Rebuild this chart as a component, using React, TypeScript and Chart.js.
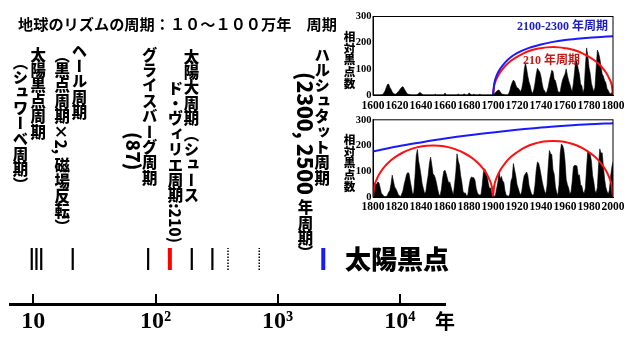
import { useEffect, useRef } from 'react';
import { Chart, registerables } from 'chart.js';
Chart.register(...registerables);

// ---------- main log axis ----------
const axisTicks = [10, 100, 1000, 10000];
const axisTickLabels = ['10', '10²', '10³', '10⁴'];
const axisMin = 6.44;
const axisMax = 23400;

// periods (years) marked on the timeline
const periodValues = [9.7, 10.6, 11.6, 21, 87, 131, 198, 292, 392, 706, 2360];
const periodKinds = ['solid', 'solid', 'solid', 'solid', 'solid', 'red', 'solid', 'solid', 'dotted', 'dotted', 'blue'];

const titleText = '地球のリズムの周期：１０〜１００万年　周期';
const sunspotLabel = '太陽黒点';
const yearUnit = '年';

// vertical labels: parts with optional larger sideways latin
const verticalLabels = [
  { parts: [{ t: '（シュワーベ周期）' }], x: 20, y: 54 },
  { parts: [{ t: '太陽黒点周期' }], x: 37.7, y: 47 },
  { parts: [{ t: '（黒点周期' }, { t: '×2, ', side: true }, { t: '磁場反転）' }], x: 61.7, y: 47 },
  { parts: [{ t: 'ヘール周期' }], x: 79, y: 43 },
  { parts: [{ t: '(87)', big: 19 }], x: 133, y: 132 },
  { parts: [{ t: 'グライスバーグ周期' }], x: 149.3, y: 47 },
  { parts: [{ t: 'ド・ヴィリエ周期' }, { t: ':210)', side: true }], x: 175, y: 80 },
  { parts: [{ t: '太陽大周期（シュース' }], x: 191, y: 49 },
  { parts: [{ t: '(2300, 2500 ', big: 21 }, { t: '年周期）' }], x: 305, y: 72 },
  { parts: [{ t: 'ハルシュタット周期' }], x: 321.7, y: 47 },
];

// ---------- inset sunspot charts ----------
const insetYLabel = '相対黒点数';

// yearly relative sunspot number 1600-1800
const topSunspots = [
  0, 0, 0, 0, 0, 0, 0, 0, 2, 8,
  15, 28, 40, 42, 30, 22, 12, 6, 4, 3,
  8, 12, 18, 25, 30, 32, 24, 16, 8, 4,
  2, 1, 0, 0, 0, 0, 0, 2, 6, 10,
  7, 3, 0, 0, 0, 0, 0, 0, 0, 0,
  0, 0, 3, 0, 0, 0, 0, 0, 0, 0,
  8, 0, 0, 0, 0, 0, 0, 0, 0, 0,
  0, 4, 0, 0, 0, 0, 5, 0, 0, 0,
  8, 5, 0, 0, 3, 0, 0, 0, 0, 3,
  0, 0, 0, 0, 0, 0, 0, 0, 0, 0,
  0, 5, 10, 14, 18, 19, 12, 6, 3, 2,
  0, 0, 0, 4, 16, 35, 48, 57, 52, 38,
  28, 26, 20, 12, 25, 50, 95, 123, 100, 72,
  50, 36, 14, 6, 20, 45, 78, 102, 95, 88,
  70, 42, 22, 16, 6, 14, 30, 55, 75, 95,
  90, 60, 55, 36, 15, 10, 12, 38, 58, 70,
  80, 100, 75, 55, 42, 25, 13, 45, 90, 140,
  125, 100, 80, 42, 35, 9, 25, 110, 180, 150,
  105, 82, 45, 28, 12, 30, 105, 172, 160, 140,
  108, 80, 72, 55, 48, 25, 18, 8, 5, 8,
  15,
];

// yearly relative sunspot number 1800-2000
const bottomSunspots = [
  15, 38, 52, 50, 58, 55, 35, 14, 10, 3,
  0, 2, 7, 18, 25, 50, 85, 62, 40, 32,
  22, 10, 5, 2, 12, 25, 50, 68, 88, 95,
  92, 62, 38, 10, 18, 80, 160, 185, 140, 115,
  85, 50, 32, 14, 20, 55, 85, 130, 155, 125,
  90, 85, 72, 52, 28, 9, 6, 30, 72, 100,
  104, 90, 72, 55, 58, 40, 22, 9, 50, 95,
  168, 140, 125, 85, 58, 22, 15, 16, 4, 8,
  42, 68, 78, 76, 75, 65, 33, 17, 9, 8,
  9, 46, 95, 110, 100, 82, 55, 34, 35, 16,
  12, 3, 6, 32, 55, 97, 70, 80, 63, 57,
  24, 7, 5, 2, 12, 62, 75, 130, 105, 82,
  49, 34, 18, 7, 22, 57, 83, 90, 97, 84,
  46, 28, 14, 7, 11, 47, 103, 136, 132, 112,
  86, 60, 39, 21, 12, 43, 118, 181, 168, 165,
  105, 88, 40, 18, 6, 48, 170, 206, 200, 185,
  140, 68, 48, 35, 13, 19, 60, 118, 123, 122,
  120, 84, 86, 48, 43, 20, 16, 35, 115, 181,
  175, 165, 140, 84, 58, 23, 17, 37, 125, 187,
  170, 172, 118, 69, 38, 22, 11, 27, 80, 116,
  136,
];

// 210-year cycle arcs
const topRedYears = [1700, 1701, 1703, 1706, 1710, 1715, 1720, 1725, 1730, 1735, 1740, 1745, 1750, 1755, 1760, 1765, 1770, 1775, 1780, 1785, 1790, 1794, 1797, 1799, 1800];
const topRedValues = [0, 36, 62, 87, 110, 131, 146, 158, 168, 175, 179, 182, 183, 182, 179, 175, 168, 158, 146, 131, 110, 87, 62, 36, 0];
const bottomRed1Years = [1800, 1801, 1803, 1806, 1810, 1815, 1820, 1825, 1830, 1835, 1840, 1845, 1850, 1855, 1860, 1865, 1870, 1875, 1880, 1885, 1890, 1894, 1897, 1899, 1900];
const bottomRed1Values = [0, 40, 68, 95, 120, 143, 160, 173, 183, 191, 196, 199, 200, 199, 196, 191, 183, 173, 160, 143, 120, 95, 68, 40, 0];
const bottomRed2Years = [1900, 1901, 1903, 1906, 1910, 1915, 1920, 1925, 1930, 1935, 1940, 1945, 1950, 1955, 1960, 1965, 1970, 1975, 1980, 1985, 1990, 1994, 1997, 1999, 2000];
const bottomRed2Values = [0, 43, 74, 104, 131, 156, 174, 189, 200, 208, 214, 217, 218, 217, 214, 208, 200, 189, 174, 156, 131, 104, 74, 43, 0];

// 2100-2300-year cycle curves
const topBlueYears = [1700, 1701, 1703, 1706, 1710, 1715, 1720, 1730, 1740, 1750, 1760, 1770, 1780, 1790, 1800];
const topBlueValues = [0, 42, 74, 100, 124, 145, 160, 180, 193, 203, 210, 215, 219, 222, 225];
const bottomBlueYears = [1800, 1820, 1840, 1860, 1880, 1900, 1920, 1940, 1960, 1980, 2000];
const bottomBlueValues = [177, 196, 212, 227, 240, 251, 261, 270, 277, 283, 287];

const blueLabel = '2100-2300 年周期';
const redLabel = '210 年周期';

const RED = '#ff1010';
const BLUE = '#1a1aff';
const SERIF = "'Liberation Serif', 'Times New Roman', serif";
const GOTHIC = "'Noto Sans CJK JP', 'Noto Sans', sans-serif";

function pts(xs: number[], ys: number[]) {
  return xs.map((x, i) => ({ x, y: ys[i] }));
}

function mainConfig(): any {
  const styles: any = {
    solid: { color: '#000', width: 2.2, dash: [] },
    red: { color: '#ff0000', width: 4, dash: [] },
    blue: { color: BLUE, width: 4, dash: [] },
    dotted: { color: '#000', width: 1.5, dash: [1.5, 1.5] },
  };
  const lineLow = 34;
  const lineHigh = 56;
  const textPlugin = {
    id: 'mainText',
    afterDraw(chart: any) {
      const ctx = chart.ctx;
      ctx.save();
      ctx.fillStyle = '#000';
      ctx.textBaseline = 'middle';
      ctx.textAlign = 'left';
      ctx.font = `bold 15.2px ${GOTHIC}`;
      ctx.fillText(titleText, 18, 24.5);
      ctx.font = `900 26px ${GOTHIC}`;
      ctx.fillText(sunspotLabel, 345, 259);
      ctx.font = `bold 20px ${GOTHIC}`;
      ctx.textAlign = 'center';
      ctx.fillText(yearUnit, 445, 321);
      ctx.restore();
    },
  };
  return {
    type: 'line',
    data: {
      datasets: periodValues.map((v, i) => {
        const s = styles[periodKinds[i]];
        return {
          data: [{ x: v, y: lineLow }, { x: v, y: lineHigh }],
          borderColor: s.color,
          borderWidth: s.width,
          borderDash: s.dash,
          borderCapStyle: 'butt',
          pointRadius: 0,
          clip: false,
          fill: false,
        };
      }),
    },
    options: {
      responsive: false,
      animation: false,
      events: [],
      layout: { padding: { left: 10, right: 191, top: 294, bottom: 0 } },
      plugins: { legend: { display: false }, tooltip: { enabled: false } },
      scales: {
        x: {
          type: 'logarithmic',
          min: axisMin,
          max: axisMax,
          afterBuildTicks: (s: any) => {
            s.ticks = axisTicks.map((v) => ({ value: v }));
          },
          afterFit: (s: any) => {
            s.height = 34;
          },
          grid: { display: true, drawOnChartArea: true, drawTicks: false, color: '#000', lineWidth: 2 },
          border: { display: true, color: '#000', width: 3 },
          ticks: {
            autoSkip: false,
            maxRotation: 0,
            padding: 3,
            color: '#000',
            font: { family: SERIF, size: 24, weight: 'bold' },
            callback: (v: any) => {
              const i = axisTicks.indexOf(Number(v));
              return i >= 0 ? axisTickLabels[i] : '';
            },
          },
        },
        y: { display: false, min: 0, max: 10 },
      },
    },
    plugins: [textPlugin],
  };
}

function insetConfig(o: any): any {
  const framePlugin = {
    id: 'frame',
    afterDraw(chart: any) {
      const { ctx, chartArea: a, scales } = chart;
      ctx.save();
      ctx.strokeStyle = '#000';
      ctx.lineWidth = 1;
      ctx.strokeRect(a.left, a.top, a.right - a.left, a.bottom - a.top);
      ctx.textBaseline = 'middle';
      ctx.textAlign = 'left';
      for (const l of o.labels) {
        ctx.fillStyle = l.color;
        ctx.font = `bold 12px ${SERIF}, ${GOTHIC}`;
        ctx.fillText(l.text, scales.x.getPixelForValue(l.year), scales.y.getPixelForValue(l.value));
      }
      ctx.restore();
    },
  };
  const datasets: any[] = [
    {
      data: pts(o.sunYears, o.sunValues),
      borderColor: '#000',
      borderWidth: 0.6,
      backgroundColor: '#000',
      fill: 'origin',
      pointRadius: 0,
      tension: 0,
      order: 3,
    },
  ];
  for (const c of o.curves) {
    datasets.push({
      data: pts(c.years, c.values),
      borderColor: c.color,
      borderWidth: 2,
      pointRadius: 0,
      fill: false,
      cubicInterpolationMode: 'monotone',
      order: 1,
    });
  }
  return {
    type: 'line',
    data: { datasets },
    options: {
      responsive: false,
      animation: false,
      events: [],
      layout: { padding: { left: 0, right: o.right, top: o.top, bottom: 0 } },
      plugins: { legend: { display: false }, tooltip: { enabled: false } },
      scales: {
        x: {
          type: 'linear',
          min: o.xMin,
          max: o.xMax,
          afterFit: (s: any) => {
            s.height = o.xHeight;
          },
          grid: { display: false, drawTicks: false },
          border: { display: true, color: '#000', width: 1 },
          ticks: {
            stepSize: 20,
            autoSkip: false,
            maxRotation: 0,
            padding: o.xPad,
            color: '#000',
            font: { family: SERIF, size: 11.5, weight: 'bold' },
            callback: (v: any) => String(v),
          },
        },
        y: {
          min: 0,
          max: 300,
          afterFit: (s: any) => {
            s.width = 33;
          },
          grid: { display: false, drawTicks: false },
          border: { display: true, color: '#000', width: 1 },
          ticks: {
            stepSize: 100,
            padding: 1.5,
            color: '#000',
            font: { family: SERIF, size: 10.5, weight: 'bold' },
          },
        },
      },
    },
    plugins: [framePlugin],
  };
}

export default function App() {
  const mainRef = useRef<HTMLCanvasElement>(null);
  const topRef = useRef<HTMLCanvasElement>(null);
  const botRef = useRef<HTMLCanvasElement>(null);

  useEffect(() => {
    const charts: Chart[] = [];
    charts.push(new Chart(mainRef.current as HTMLCanvasElement, mainConfig()));
    charts.push(
      new Chart(
        topRef.current as HTMLCanvasElement,
        insetConfig({
          xMin: 1600,
          xMax: 1800,
          sunYears: topSunspots.map((_, i) => 1600 + i),
          sunValues: topSunspots,
          curves: [
            { years: topBlueYears, values: topBlueValues, color: BLUE },
            { years: topRedYears, values: topRedValues, color: RED },
          ],
          labels: [
            { text: blueLabel, year: 1720, value: 261, color: '#1c1cc8' },
            { text: redLabel, year: 1725, value: 130, color: '#c81818' },
          ],
          top: 16.5,
          right: 23,
          xHeight: 17,
          xPad: 4,
        })
      )
    );
    charts.push(
      new Chart(
        botRef.current as HTMLCanvasElement,
        insetConfig({
          xMin: 1800,
          xMax: 2000,
          sunYears: bottomSunspots.map((_, i) => 1800 + i),
          sunValues: bottomSunspots,
          curves: [
            { years: bottomBlueYears, values: bottomBlueValues, color: BLUE },
            { years: bottomRed1Years, values: bottomRed1Values, color: RED },
            { years: bottomRed2Years, values: bottomRed2Values, color: RED },
          ],
          labels: [],
          top: 7,
          right: 23,
          xHeight: 18,
          xPad: 3,
        })
      )
    );
    return () => charts.forEach((c) => c.destroy());
  }, []);

  const vStyle = (x: number, y: number, size: number, lh: number): any => ({
    position: 'absolute',
    left: x - lh / 2,
    top: y,
    writingMode: 'vertical-rl',
    textOrientation: 'mixed',
    fontFamily: GOTHIC,
    fontWeight: 900,
    fontSize: size,
    lineHeight: `${lh}px`,
    whiteSpace: 'pre',
    color: '#000',
  });

  return (
    <div style={{ position: 'absolute', left: 0, top: 0, width: 636, height: 338, background: '#fff', overflow: 'hidden' }}>
      <canvas ref={mainRef} width={636} height={338} style={{ position: 'absolute', left: 0, top: 0 }} />
      <canvas ref={topRef} width={296} height={112} style={{ position: 'absolute', left: 340, top: 0 }} />
      <canvas ref={botRef} width={296} height={103} style={{ position: 'absolute', left: 340, top: 112 }} />
      {verticalLabels.map((l, i) => (
        <div key={i} style={vStyle(l.x, l.y, 15.4, 17)}>
          {l.parts.map((p: any, j: number) => (
            <span
              key={j}
              style={{
                fontSize: p.big ? p.big : undefined,
                textOrientation: p.side ? 'sideways' : undefined,
              }}
            >
              {p.t}
            </span>
          ))}
        </div>
      ))}
      <div style={vStyle(349, 31, 11.6, 13)}>{insetYLabel}</div>
      <div style={vStyle(349, 134, 11.6, 13)}>{insetYLabel}</div>
    </div>
  );
}
